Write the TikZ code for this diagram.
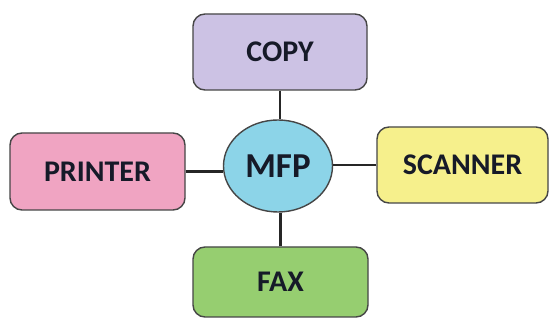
\documentclass[tikz,border=0pt]{standalone}
\usepackage{fontspec}
\setmainfont{Carlito}
\usetikzlibrary{shapes.geometric}
\definecolor{copyc}{RGB}{204,194,228}
\definecolor{printc}{RGB}{240,164,194}
\definecolor{mfpc}{RGB}{140,212,232}
\definecolor{scanc}{RGB}{246,240,140}
\definecolor{faxc}{RGB}{150,206,112}
\definecolor{edgec}{RGB}{70,70,70}
\definecolor{txtc}{RGB}{22,26,40}
\tikzset{
  unitbox/.style={draw=edgec, line width=1.4pt, rounded corners=12pt,
    minimum width=174pt, minimum height=76pt, inner sep=0pt,
    font=\bfseries\fontsize{30}{36}\selectfont, text=txtc},
  hub/.style={ellipse, draw=edgec, line width=1.4pt, fill=mfpc,
    minimum width=109pt, minimum height=92pt, inner sep=0pt,
    font=\bfseries\fontsize{35}{40}\selectfont, text=txtc},
  link/.style={line width=2.8pt, draw=black!85}
}
\begin{document}
\begin{tikzpicture}[x=1pt,y=1pt]
\useasboundingbox[fill=white] (0,0) rectangle (550,321);
\node[unitbox, fill=copyc] (copy) at (280,269) {COPY};
\node[unitbox, fill=printc, minimum width=175pt, minimum height=77pt] (printer) at (97.5,149.5) {PRINTER};
\node[unitbox, fill=scanc, minimum width=171pt] (scanner) at (462.5,156) {SCANNER};
\node[unitbox, fill=faxc, minimum width=175pt, minimum height=70pt] (fax) at (280.5,39) {FAX};
\node[hub] (mfp) at (278,155) {MFP};
\draw[link] (copy.south) -- (copy.south |- mfp.north);
\draw[link] (fax.north) -- (fax.north |- mfp.south);
\draw[link] (printer.east) -- (printer.east -| mfp.west);
\draw[link] (scanner.west) -- (scanner.west -| mfp.east);
\end{tikzpicture}
\end{document}
